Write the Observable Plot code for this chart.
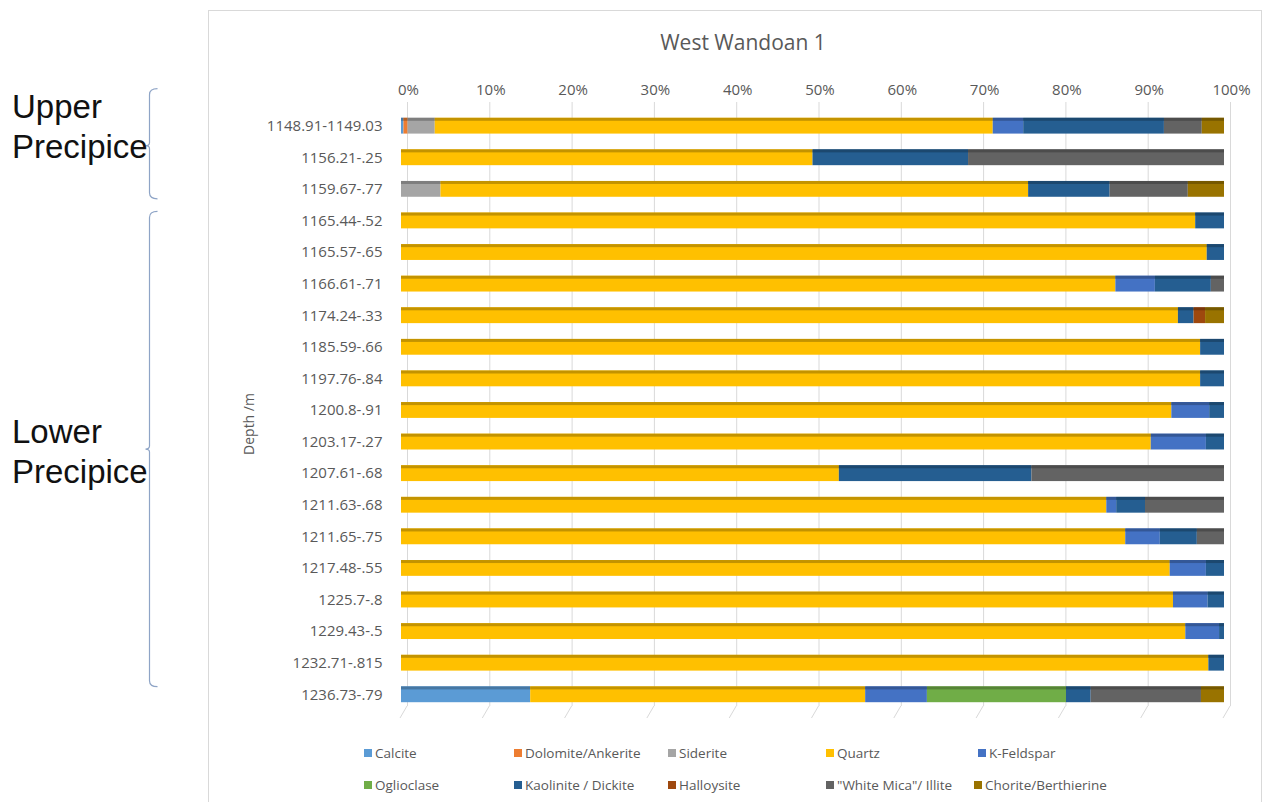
<!DOCTYPE html>
<html>
<head>
<meta charset="utf-8">
<script src="https://cdn.jsdelivr.net/npm/d3@7"></script>
<script src="https://cdn.jsdelivr.net/npm/@observablehq/plot@0.6"></script>
<style>
  html, body { margin: 0; padding: 0; background: #fff; }
  #wrap { position: relative; width: 1286px; height: 802px; overflow: hidden; background: #fff; font-family: "Open Sans", sans-serif; }
  #chart { position: absolute; left: 0; top: 0; }
  .leg { position: absolute; font-size: 13.5px; color: #595959; display: flex; align-items: center; white-space: nowrap; }
  .leg i { display: inline-block; width: 8px; height: 8px; margin-right: 3px; }
</style>
</head>
<body>
<div id="wrap">
  <div id="chart"></div>
</div>
<script>
// ---------- data ----------
const title = "West Wandoan 1";
const yLabel = "Depth /m";
const depths = [
  "1148.91-1149.03", "1156.21-.25", "1159.67-.77", "1165.44-.52", "1165.57-.65",
  "1166.61-.71", "1174.24-.33", "1185.59-.66", "1197.76-.84", "1200.8-.91",
  "1203.17-.27", "1207.61-.68", "1211.63-.68", "1211.65-.75", "1217.48-.55",
  "1225.7-.8", "1229.43-.5", "1232.71-.815", "1236.73-.79"
];
const minerals = ["Calcite", "Dolomite/Ankerite", "Siderite", "Quartz", "K-Feldspar",
  "Oglioclase", "Kaolinite / Dickite", "Halloysite", "\"White Mica\"/ Illite", "Chorite/Berthierine"];
const colors = ["#5B9BD5", "#ED7D31", "#A5A5A5", "#FFC000", "#4472C4",
  "#70AD47", "#255E91", "#9E480E", "#636363", "#997300"];

const calcite    = [0.3, 0, 0, 0, 0, 0, 0, 0, 0, 0, 0, 0, 0, 0, 0, 0, 0, 0, 15.7];
const dolomite   = [0.5, 0, 0, 0, 0, 0, 0, 0, 0, 0, 0, 0, 0, 0, 0, 0, 0, 0, 0];
const siderite   = [3.3, 0, 4.8, 0, 0, 0, 0, 0, 0, 0, 0, 0, 0, 0, 0, 0, 0, 0, 0];
const quartz     = [67.8, 50.0, 71.4, 96.5, 97.9, 86.8, 94.4, 97.1, 97.1, 93.6, 91.1, 53.2, 85.7, 88.0, 93.4, 93.8, 95.3, 98.1, 40.7];
const kfeldspar  = [3.7, 0, 0, 0, 0, 4.8, 0, 0, 0, 4.6, 6.7, 0, 1.2, 4.2, 4.4, 4.2, 4.1, 0, 7.5];
const oglioclase = [0, 0, 0, 0, 0, 0, 0, 0, 0, 0, 0, 0, 0, 0, 0, 0, 0, 0, 16.9];
const kaolinite  = [17.1, 18.9, 9.9, 3.5, 2.1, 6.8, 1.9, 2.9, 2.9, 1.8, 2.2, 23.4, 3.5, 4.5, 2.2, 2.0, 0.6, 1.9, 3.0];
const halloysite = [0, 0, 0, 0, 0, 0, 1.4, 0, 0, 0, 0, 0, 0, 0, 0, 0, 0, 0, 0];
const whiteMica  = [4.6, 31.1, 9.5, 0, 0, 1.6, 0, 0, 0, 0, 0, 23.4, 9.6, 3.3, 0, 0, 0, 0, 13.4];
const chlorite   = [2.7, 0, 4.4, 0, 0, 0, 2.3, 0, 0, 0, 0, 0, 0, 0, 0, 0, 0, 0, 2.8];
const series = [calcite, dolomite, siderite, quartz, kfeldspar, oglioclase, kaolinite, halloysite, whiteMica, chlorite];

const xTicks = [0, 10, 20, 30, 40, 50, 60, 70, 80, 90, 100];

const groupNames = [["Upper", "Precipice"], ["Lower", "Precipice"]];
const groupFirst = ["1148.91-1149.03", "1165.44-.52"];
const groupLast = ["1159.67-.77", "1232.71-.815"];

// ---------- table ----------
const rows = [];
depths.forEach((d, i) => minerals.forEach((m, j) => rows.push({depth: d, mineral: m, value: series[j][i]})));
const colorOf = new Map(minerals.map((m, j) => [m, colors[j]]));
const dark = c => d3.color(c).darker(0.75).formatHex();
const caps = depths.map((d, i) => {
  let last = 0, total = 0;
  series.forEach((s, j) => { total += s[i]; if (s[i] > 0) last = j; });
  return {depth: d, total, color: dark(colors[last])};
});

const chart = Plot.plot({
  width: 1286,
  height: 802,
  marginLeft: 401,
  marginRight: 62,
  marginTop: 102,
  marginBottom: 84,
  style: {fontFamily: "Open Sans", fontSize: "15px", color: "#595959", background: "transparent"},
  x: {domain: [0, 100], label: null},
  y: {domain: depths, padding: 0.5, round: false, label: null},
  color: {domain: minerals, range: colors},
  marks: [
    Plot.ruleX(xTicks, {stroke: "#d9d9d9", strokeWidth: 1, dx: 6, insetBottom: 12}),
    (index, scales, values, dims) => {
      const g = d3.create("svg:g").attr("stroke", "#d9d9d9").attr("stroke-width", 1);
      const y0 = dims.height - dims.marginBottom;
      for (const t of xTicks) {
        const x = scales.x(t);
        g.append("line").attr("x1", x + 6).attr("y1", y0 - 12).attr("x2", x - 1).attr("y2", y0);
      }
      return g.node();
    },
    Plot.axisX({anchor: "top", ticks: xTicks, tickFormat: d => d + "%", tickSize: 0, tickPadding: 8, dx: 7, label: null}),
    Plot.axisY({anchor: "left", tickSize: 0, tickPadding: 19, label: null}),
    Plot.barX(rows, {y: "depth", x: "value", z: "mineral", fill: "mineral"}),
    Plot.barX(rows, {y: "depth", x: "value", z: "mineral",
      fill: {value: d => dark(colorOf.get(d.mineral)), scale: null}, insetBottom: 12.8}),
    Plot.ruleX(caps, {x: "total", y: "depth", stroke: "color", strokeWidth: 3, dx: 1.5})
  ]
});
document.getElementById("chart").appendChild(chart);

// ---------- overlays ----------
const wrap = document.getElementById("wrap");
const ov = d3.select(wrap).append("svg")
  .attr("width", 1286).attr("height", 802)
  .style("position", "absolute").style("left", 0).style("top", 0);

// chart frame
ov.append("rect").attr("x", 208.5).attr("y", 10.5).attr("width", 1053).attr("height", 800)
  .attr("fill", "none").attr("stroke", "#d9d9d9");

// title
ov.append("text").attr("x", 743).attr("y", 50).attr("text-anchor", "middle")
  .attr("font-family", "Open Sans").attr("font-size", 21).attr("fill", "#595959").text(title);

// y label
ov.append("text").attr("transform", "translate(254,424) rotate(-90)").attr("text-anchor", "middle")
  .attr("font-family", "Open Sans").attr("font-size", 14).attr("fill", "#595959").text(yLabel);

// group brackets and names, anchored on band-scale centres
const ys = chart.scale("y");
const bw = ys.bandwidth;
const centre = d => ys.apply(d) + bw / 2;
// layout offsets (pixels) for [upper, lower]
const bracketTopOff = [-37, -9];
const bracketBotOff = [10, 24];
const bracketMidOff = [20, 0];
const textOff = [-8, 223];
groupNames.forEach((name, k) => {
  const top = centre(groupFirst[k]) + bracketTopOff[k];
  const bot = centre(groupLast[k]) + bracketBotOff[k];
  const mid = k === 0 ? centre(groupFirst[k]) + bracketMidOff[k] : (top + bot) / 2;
  const x = 149.5;
  ov.append("path")
    .attr("d", `M${x + 8},${top} Q${x},${top} ${x},${top + 6} L${x},${mid - 3} Q${x},${mid} ${x - 4},${mid} Q${x},${mid} ${x},${mid + 3} L${x},${bot - 6} Q${x},${bot} ${x + 8},${bot}`)
    .attr("fill", "none").attr("stroke", "#8EA4C6").attr("stroke-width", 1.2);
  const tb = centre(groupFirst[k]) + textOff[k];
  ov.append("text").attr("x", 12).attr("y", tb).attr("font-family", "Liberation Sans, Arial")
    .attr("font-size", 33).attr("fill", "#111").text(name[0]);
  ov.append("text").attr("x", 12).attr("y", tb + 40).attr("font-family", "Liberation Sans, Arial")
    .attr("font-size", 33).attr("fill", "#111").text(name[1]);
});

// legend
const legX = [[364, 514, 668, 826, 978], [364, 514, 668, 826, 974]];
const legY = [753, 785];
minerals.forEach((m, j) => {
  const r = Math.floor(j / 5), c = j % 5;
  const div = document.createElement("div");
  div.className = "leg";
  div.style.left = legX[r][c] + "px";
  div.style.top = (legY[r] - 10) + "px";
  div.style.height = "20px";
  div.innerHTML = `<i style="background:${colors[j]}"></i><span></span>`;
  div.querySelector("span").textContent = m;
  wrap.appendChild(div);
});
</script>
</body>
</html>
